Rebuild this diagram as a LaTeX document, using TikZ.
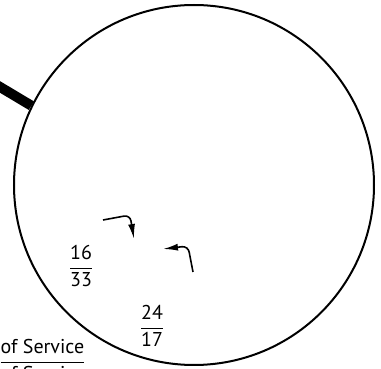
\documentclass[tikz,border=0pt]{standalone}
\usepackage{amsmath}
\usepackage{fontspec}
\setmainfont{PT Sans}
\usetikzlibrary{arrows.meta}

\begin{document}
\begin{tikzpicture}[x=0.5pt,y=-0.5pt,
  every node/.style={font=\normalsize},
  ring/.style={draw,circle,line width=1pt,minimum size=180pt,inner sep=0pt},
  frac/.style={inner sep=0pt},
  link/.style={line width=5pt},
  turn/.style={-{Latex[length=7.5pt,width=3.5pt]},line width=0.8pt,rounded corners=3pt}]
\useasboundingbox (0,0) rectangle (381,369);
\clip (0,0) rectangle (381,369);
\node[ring] (ring) at (194,185) {};
\coordinate (hub) at (-20,75);
\draw[link] (hub) -- (ring.154.7);
\node[frac] (f1) at (81,266) {$\dfrac{\text{16}}{\text{33}}$};
\node[frac] (f2) at (152,326) {$\dfrac{\text{24}}{\text{17}}$};
\node[frac,anchor=base east] (qos) at (87,367) {$\dfrac{\text{of Service}}{\text{of Service}}$};
\coordinate (a1) at (103,220);
\coordinate (b1) at (134,239);
\coordinate (a2) at (193,272);
\coordinate (b2) at (163,249);
\draw[turn] (a1) -- (130,215) -- (b1);
\draw[turn] (a2) -- (188,246) -- (b2);
\end{tikzpicture}
\end{document}
